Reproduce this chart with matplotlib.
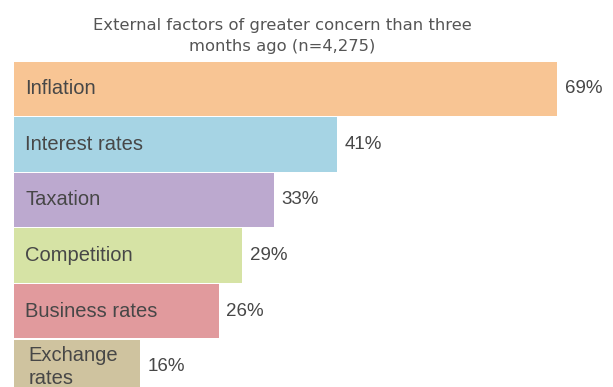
import numpy as np
from matplotlib import pyplot as plt

factors = ['Inflation', 'Interest rates', 'Taxation', 'Competition', 'Business rates', 'Exchange\nrates']
shares = [69, 41, 33, 29, 26, 16]
bar_colors = ['#F8C594', '#A6D4E4', '#BCA9CF', '#D6E3A5', '#E19A9D', '#CFC39F']
title = 'External factors of greater concern than three\nmonths ago (n=4,275)'

fig = plt.figure(figsize=(6.13, 3.87), dpi=100)
ax = fig.add_axes([14 / 613, -7.6 / 387, 599 / 613, 333.6 / 387])

y = np.arange(len(factors))
ax.barh(y, shares, height=0.98, color=bar_colors, left=0)
ax.set_xlim(0, 599 / 7.87)
ax.set_ylim(len(factors) - 0.5, -0.5)
ax.axis('off')

for i, (name, v) in enumerate(zip(factors, shares)):
    x0 = 1.8 if '\n' in name else 1.4
    ax.text(x0, i, name, va='center', ha='left', fontsize=14.5,
            color='#474747', family='Liberation Sans', linespacing=1.3)
    ax.text(v + 1.0, i, '%d%%' % v, va='center', ha='left', fontsize=13.5,
            color='#474747', family='Liberation Sans')

fig.text(282 / 613, 1 - 36 / 387, title, ha='center', va='center', fontsize=11.8,
         color='#555555', family='DejaVu Sans', linespacing=1.45)

plt.savefig('out.png', dpi=100)
plt.close()
